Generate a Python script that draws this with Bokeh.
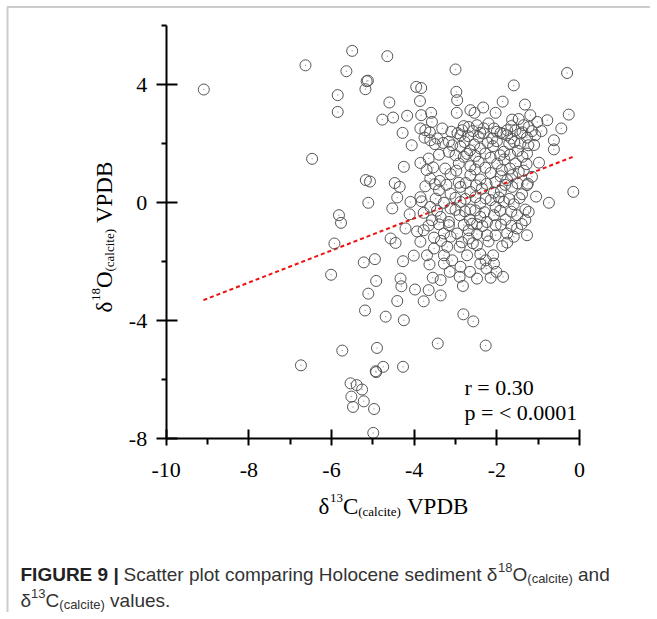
import math
from bokeh.plotting import figure
from bokeh.models import Label, FixedTicker, BoxAnnotation
from bokeh.embed import file_html
from bokeh.resources import INLINE

# ---------------- data ----------------
d13c = [
    -9.09, -6.63, -5.50, -4.65, -5.64, -5.15, -5.12, -5.18, -5.85, -5.85,
    -4.60, -4.77, -4.51, -6.47, -5.17, -5.07, -4.47, -5.11, -4.53, -4.41,
    -5.82, -5.77, -5.93, -6.01, -5.22, -4.95, -4.92, -5.11, -5.19, -4.69,
    -4.41, -4.57, -4.45, -5.74, -6.74, -4.90, -4.93, -4.92, -4.75, -5.54,
    -5.39, -5.26, -5.52, -5.22, -5.48, -4.97, -4.99, -4.27, -4.25, -3.43,
    -2.27, -2.81, -2.57, -3.77, -3.98, -3.65, -3.36, -4.33, -4.31, -2.82,
    -3.00, -0.30, -1.59, -3.95, -3.83, -2.98, -2.96, -3.86, -1.86, -1.32,
    -0.26, -4.17, -3.83, -3.59, -2.97, -2.64, -2.54, -2.33, -2.03, -1.63,
    -1.47, -1.19, -0.78, -0.44, -0.62, -0.62, -0.92, -4.28, -4.06, -4.25,
    -4.35, -4.09, -3.82, -4.11, -0.15, -0.74, -4.27, -4.01, -3.69,
    # row A
    -3.85, -3.73, -3.32, -3.57, -2.84, -2.80, -2.68, -2.48, -2.32, -2.20,
    -2.07, -1.75, -1.65, -1.35, -1.23, -1.02,
    # row B
    -3.75, -3.61, -3.44, -3.16, -2.88, -2.69, -2.44, -2.32, -2.11, -1.91,
    -1.75, -1.65, -1.43, -1.27, -1.07,
    # row C
    -3.16, -3.08, -2.88, -2.65, -2.40, -2.09, -1.83, -1.49, -1.27, -1.24, -1.43,
    # row D
    -3.85, -3.65, -3.54, -3.12, -2.92, -2.80, -2.64, -2.44, -2.15, -1.99,
    -1.82, -1.55, -1.28, -1.47,
    # row E
    -3.61, -3.38, -2.92, -2.64, -2.40, -2.15, -2.03, -1.91, -1.75, -1.63,
    -1.27, -1.15,
    # row F
    -3.73, -3.40, -3.12, -2.88, -2.64, -2.36, -2.07, -1.90, -1.63, -1.39, -1.25,
    # row G
    -3.61, -3.28, -3.12, -2.88, -2.64, -2.40, -2.15, -2.03, -1.83, -1.59,
    -1.31, -1.23,
    # row H
    -3.77, -3.57, -3.36, -3.16, -2.90, -2.65, -2.40, -2.24, -2.07, -1.79,
    -1.51, -1.31,
    # row I
    -4.21, -3.93, -3.77, -3.52, -3.28, -3.16, -2.96, -2.68, -2.48, -2.24,
    -2.03, -1.75, -1.51, -1.27,
    # row J
    -3.12, -2.68, -2.48, -2.03, -1.59,
    # row K
    -3.52, -3.28, -3.20, -3.08, -2.90, -2.72, -2.40, -2.27, -2.09, -1.87, -2.48,
    # row L
    -3.63, -3.28, -3.14, -2.88, -2.65, -2.40, -2.25, -2.07,
    # row M
    -3.55, -3.36, -2.90, -2.48, -2.15, -1.85, -2.01,
    # extra
    -0.98, -1.05,
    # between rows
    -3.62, -3.10, -2.95, -2.58, -2.40, -2.00, -1.85, -1.55, -1.38, -1.15,
    -3.50, -3.30, -2.78, -2.55, -2.22, -2.00, -1.70, -1.58, -1.10,
    -3.40, -3.00, -2.72, -2.52, -2.28, -1.92, -1.68, -1.38,
    -3.70, -3.25, -2.98, -2.52, -2.28, -1.88, -1.68, -1.35,
    -3.50, -3.22, -2.75, -2.50, -2.25, -1.80, -1.50,
    -3.85, -3.48, -3.00, -2.76, -2.52, -2.27, -1.95, -1.70, -1.45,
    -3.45, -3.00, -2.77, -2.52, -2.30, -1.92, -1.65,
    -3.65, -3.40, -2.80, -2.60, -2.35, -1.90, -1.65, -1.40,
    -3.85, -3.35, -2.85, -2.58, -2.20, -1.75,
]
d18o = [
    3.83, 4.65, 5.14, 4.96, 4.45, 4.11, 4.13, 3.84, 3.64, 3.07,
    3.39, 2.81, 2.88, 1.48, 0.76, 0.71, 0.66, -0.01, -0.20, 0.17,
    -0.43, -0.69, -1.39, -2.45, -2.03, -1.92, -2.66, -3.09, -3.66, -3.87,
    -3.34, -1.22, -1.37, -5.02, -5.52, -4.93, -5.72, -5.75, -5.57, -6.13,
    -6.19, -6.34, -6.58, -6.74, -6.93, -7.00, -7.81, -5.57, -3.99, -4.78,
    -4.85, -3.79, -4.03, -3.35, -2.95, -2.97, -3.15, -2.58, -2.84, -2.83,
    4.51, 4.39, 3.97, 3.92, 3.88, 3.75, 3.47, 3.44, 3.42, 3.32,
    2.98, 2.94, 2.96, 3.04, 3.04, 3.13, 3.04, 3.22, 3.04, 2.81,
    2.83, 2.96, 2.79, 2.51, 2.11, 1.80, 2.42, 2.36, 1.94, 1.21,
    0.53, 0.02, 0.04, -0.40, 0.36, -0.01, -1.99, -1.80, -1.79,
    # row A
    2.51, 2.45, 2.51, 2.73, 2.45, 2.59, 2.56, 2.62, 2.51, 2.68,
    2.51, 2.45, 2.59, 2.62, 2.56, 2.73,
    # row B
    2.20, 2.11, 2.17, 2.06, 2.28, 2.25, 2.23, 2.34, 2.17, 2.36,
    2.28, 2.17, 2.34, 2.20, 2.28,
    # row C
    1.72, 1.94, 1.89, 1.77, 1.83, 1.91, 1.72, 1.75, 1.66, 1.94, 2.00,
    # row D
    1.34, 1.49, 1.19, 0.96, 1.32, 1.55, 1.23, 1.38, 1.52, 1.32,
    1.46, 1.32, 1.30, 1.04,
    # row E
    0.81, 0.73, 0.67, 0.93, 0.78, 1.00, 0.70, 0.89, 0.76, 0.93,
    0.59, 0.87,
    # row F
    0.55, 0.42, 0.30, 0.53, 0.36, 0.47, 0.33, 0.39, 0.53, 0.28, 0.64,
    # row G
    -0.15, -0.01, -0.20, 0.02, -0.24, -0.03, 0.08, -0.15, 0.02, -0.06,
    -0.24, -0.32,
    # row H
    -0.35, -0.60, -0.49, -0.66, -0.43, -0.58, -0.49, -0.66, -0.43, -0.58,
    -0.43, -0.60,
    # row I
    -0.88, -0.98, -0.94, -1.19, -1.05, -0.77, -1.05, -0.94, -0.74, -1.11,
    -0.77, -1.05, -0.88, -1.11,
    # row J
    -1.16, -1.22, -1.07, -1.11, -1.16,
    # row K
    -1.56, -1.79, -1.50, -1.96, -1.50, -1.79, -1.75, -1.96, -1.79, -1.48, -1.45,
    # row L
    -2.10, -2.07, -2.35, -2.18, -2.35, -2.07, -2.24, -2.07,
    # row M
    -2.55, -2.63, -2.52, -2.58, -2.55, -2.52, -2.35,
    # extra
    1.35, 0.20,
    # between rows
    2.38, 2.40, 2.35, 2.42, 2.36, 2.40, 2.33, 2.44, 2.38, 2.42,
    1.98, 2.02, 2.05, 1.97, 2.03, 2.08, 1.99, 2.05, 1.95,
    1.62, 1.60, 1.65, 1.58, 1.66, 1.60, 1.62, 1.55,
    1.10, 1.15, 1.08, 1.12, 1.18, 1.10, 1.15, 1.08,
    0.62, 0.60, 0.66, 0.58, 0.63, 0.60, 0.65,
    0.18, 0.13, 0.16, 0.12, 0.18, 0.14, 0.17, 0.12, 0.15,
    -0.28, -0.25, -0.30, -0.27, -0.33, -0.28, -0.31,
    -0.78, -0.74, -0.76, -0.72, -0.80, -0.75, -0.79, -0.73,
    -1.33, -1.30, -1.35, -1.38, -1.32, -1.36,
]

fit_x = [-9.10, -0.10]          # end points of the regression line
fit_y = [-3.31, 1.58]

x_ticks = [-10, -8, -6, -4, -2, 0]
x_tick_labels = ["-10", "-8", "-6", "-4", "-2", "0"]
x_minor = [-9, -7, -5, -3, -1]
y_ticks = [-8, -4, 0, 4]
y_tick_labels = ["-8", "-4", "0", "4"]
y_minor = [-6, -2, 2, 6]
stat_lines = ["r = 0.30", "p = < 0.0001"]

# ---------------- layout (whole canvas is the frame) ----------------
W, H = 650, 612
X0, X1, Y0, Y1 = -10, 0, -8, 6
PXL, PXR, PYT, PYB = 165.7, 579.0, 25.0, 438.0   # pixel positions of the axis ends
KX = (X1 - X0) / (PXR - PXL)
KY = (Y1 - Y0) / (PYB - PYT)
SERIF = "Liberation Serif"
SANS = "Liberation Sans"

p = figure(frame_width=W, frame_height=H,
           min_border_left=0, min_border_top=0,
           min_border_right=0, min_border_bottom=0,
           x_range=(X0 - PXL * KX, X0 + (W - PXL) * KX),
           y_range=(Y1 - (H - PYT) * KY, Y1 + PYT * KY),
           output_backend="svg", toolbar_location=None)
p.grid.visible = False
p.outline_line_color = None


def cx(px):
    return X0 + (px - PXL) * KX


def cy(py):
    return Y1 - (py - PYT) * KY


# page frame lines (top and left)
p.add_layout(BoxAnnotation(left=cx(7), top=cy(6.5), right=cx(W + 20), bottom=cy(H + 20),
                           fill_color=None, line_color="#555555", line_width=2))

p.xaxis.ticker = FixedTicker(ticks=x_ticks, minor_ticks=x_minor)
p.yaxis.ticker = FixedTicker(ticks=y_ticks, minor_ticks=y_minor)
p.xaxis.major_label_overrides = dict(zip(x_ticks, x_tick_labels))
p.yaxis.major_label_overrides = dict(zip(y_ticks, y_tick_labels))
p.xaxis.fixed_location = Y0
p.yaxis.fixed_location = X0
p.xaxis.bounds = (X0, X1)
p.yaxis.bounds = (Y0, Y1)
for ax in (p.xaxis[0], p.yaxis[0]):
    ax.axis_line_width = 2
    ax.axis_line_color = "black"
    ax.major_tick_line_width = 2
    ax.minor_tick_line_width = 2
    ax.major_tick_line_color = "black"
    ax.minor_tick_line_color = "black"
    ax.major_label_text_font = SERIF
    ax.major_label_text_font_size = "22px"
    ax.major_label_text_color = "black"
    ax.minor_tick_in = 0
p.xaxis.major_tick_in = 9
p.xaxis.major_tick_out = 7
p.xaxis.minor_tick_out = 6
p.xaxis.major_label_standoff = 17
p.yaxis.major_tick_in = 11
p.yaxis.major_tick_out = 10
p.yaxis.minor_tick_out = 5
p.yaxis.major_label_standoff = 9

# regression line
p.line(fit_x, fit_y, line_color="#ee1111", line_width=2, line_dash="4 3")

# data points
p.scatter(d13c, d18o, marker="circle", size=11, fill_color=None,
          line_color="#555555", line_width=1)
p.scatter(d13c, d18o, marker="circle", size=1.5, fill_color="#aaaaaa",
          line_color=None)


def lab(text, px, py, size, font=SERIF, angle=0.0, color="black", style="normal"):
    p.add_layout(Label(x=cx(px), y=cy(py), text=text, text_font=font,
                       text_font_size=f"{size}px", text_baseline="alphabetic",
                       text_align="left", angle=angle, text_color=color,
                       text_font_style=style))


# x axis title: δ13C(calcite) VPDB
bx, by = 318, 506
M, S = 23, 13
lab("δ", bx, by, M)
lab("13", bx + 11.4, by - 9, S)
lab("C", bx + 24.4, by, M)
lab("(calcite)", bx + 39.7, by + 5, S)
lab("VPDB", bx + 88.5, by, M)

# y axis title (rotated): δ18O(calcite) VPDB
ax_, ay_ = 104, 312
R = math.pi / 2
lab("δ", ax_, ay_, M, angle=R)
lab("18", ax_ - 9, ay_ - 11.4, S, angle=R)
lab("O", ax_, ay_ - 24.4, M, angle=R)
lab("(calcite)", ax_ + 5, ay_ - 41.0, S, angle=R)
lab("VPDB", ax_, ay_ - 89.4, M, angle=R)

# statistics
lab(stat_lines[0], 464, 387, 22)
lab(stat_lines[1], 464, 412, 22)

# caption
CS, CSS = 19, 13
cyl1, cyl2 = 574, 600
lab("FIGURE 9 |", 20, cyl1, CS, font=SANS, color="#222222", style="bold")
lab("Scatter plot comparing Holocene sediment δ", 123, cyl1, CS, font=SANS, color="#333333")
lab("18", 497.5, cyl1 - 7, CSS, font=SANS, color="#333333")
lab("O", 512, cyl1, CS, font=SANS, color="#333333")
lab("(calcite)", 526.8, cyl1 + 4, CSS, font=SANS, color="#333333")
lab("and", 577.5, cyl1, CS, font=SANS, color="#333333")
lab("δ", 20, cyl2, CS, font=SANS, color="#333333")
lab("13", 30.6, cyl2 - 7, CSS, font=SANS, color="#333333")
lab("C", 45.1, cyl2, CS, font=SANS, color="#333333")
lab("(calcite)", 58.8, cyl2 + 4, CSS, font=SANS, color="#333333")
lab("values.", 109.6, cyl2, CS, font=SANS, color="#333333")

open("out.html", "w").write(file_html(p, INLINE))
